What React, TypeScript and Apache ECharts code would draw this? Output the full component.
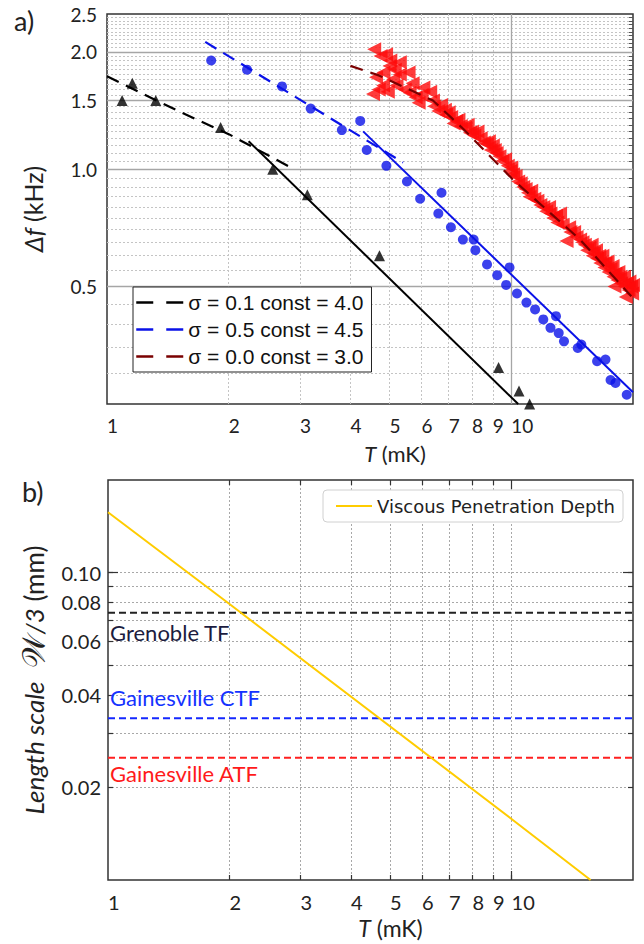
import React, { useEffect, useRef } from 'react';
import * as echarts from 'echarts';

// ---------- axis ticks / labels ----------
const tickT = [1, 2, 3, 4, 5, 6, 7, 8, 9, 10];
const minorT = [2, 3, 4, 5, 6, 7, 8, 9];
const majorT = [10];
const bottomGridT = [2, 3, 4, 5, 6, 7, 8, 9, 10];
const dfTickLabels = [0.5, 1.0, 1.5, 2.0, 2.5];
const dfMajorGrid = [0.5, 1.0, 1.5, 2.0];
const dfMinorGrid = [
  0.3, 0.35, 0.4, 0.45, 0.55, 0.6, 0.65, 0.7, 0.75, 0.8, 0.85, 0.9, 0.95,
  1.05, 1.1, 1.15, 1.2, 1.25, 1.3, 1.35, 1.4, 1.45, 1.55, 1.6, 1.65, 1.7, 1.75,
  1.8, 1.85, 1.9, 1.95, 2.05, 2.1, 2.15, 2.2, 2.25, 2.3, 2.35, 2.4, 2.45,
];
const lengthTickLabels = [0.02, 0.04, 0.06, 0.08, 0.1];
const lengthTicks = [0.02, 0.03, 0.04, 0.05, 0.06, 0.07, 0.08, 0.09, 0.1];
const lengthMajorTicks = [0.1];

// ---------- panel a) data : [T (mK), Δf (kHz)] ----------
const blackTriangles = [
  [1.09, 1.5], [1.155, 1.66], [1.32, 1.5], [1.91, 1.28], [2.57, 1.0],
  [3.13, 0.86], [4.72, 0.6], [9.3, 0.31], [10.45, 0.27], [11.1, 0.25],
];
const blueCircles = [
  [1.81, 1.9], [2.22, 1.8], [2.71, 1.63], [3.19, 1.43], [3.81, 1.26], [4.23, 1.33],
  [4.39, 1.12], [4.91, 1.02], [5.52, 0.93], [5.95, 0.84], [6.72, 0.87], [6.6, 0.77],
  [7.09, 0.71], [7.59, 0.66], [8.07, 0.66], [8.15, 0.62], [8.71, 0.57], [9.23, 0.535],
  [9.9, 0.56], [9.71, 0.505], [10.33, 0.48], [10.9, 0.455], [11.45, 0.437], [12.0, 0.412],
  [12.9, 0.42], [12.5, 0.392], [13.1, 0.38], [13.5, 0.362], [14.6, 0.348], [14.9, 0.355],
  [16.3, 0.322], [17.1, 0.325], [17.6, 0.288], [18.1, 0.283], [19.3, 0.264],
];
const redTriangles = [
  [4.58, 2.03], [4.75, 1.95], [4.9, 1.97], [5.02, 1.9], [5.0, 1.84], [4.83, 1.77],
  [4.63, 1.72], [4.82, 1.64], [4.55, 1.56], [4.7, 1.6], [5.1, 1.7], [5.3, 1.75],
  [5.3, 1.88], [5.57, 1.77], [5.2, 1.64], [5.45, 1.6], [5.6, 1.57], [5.8, 1.53],
  [6.06, 1.62], [6.0, 1.55], [6.3, 1.58], [6.4, 1.5], [6.45, 1.45], [4.95, 1.58],
  [5.15, 1.8], [5.7, 1.66], [5.9, 1.48],
  [6.7, 1.46], [6.85, 1.42], [6.9, 1.38], [7.1, 1.36], [7.3, 1.33], [7.5, 1.29],
  [7.7, 1.28], [7.9, 1.24], [8.1, 1.22], [8.4, 1.2], [8.7, 1.16], [8.9, 1.12],
  [9.2, 1.1], [9.5, 1.05], [9.8, 1.02], [10.1, 0.97], [10.4, 0.93], [10.7, 0.9],
  [11.0, 0.87], [11.4, 0.84], [11.8, 0.81], [12.2, 0.78], [12.7, 0.75], [13.2, 0.77],
  [13.0, 0.73], [13.7, 0.654], [13.9, 0.71], [14.3, 0.69], [14.8, 0.66], [15.2, 0.64],
  [15.6, 0.63], [15.9, 0.6], [16.3, 0.59], [16.6, 0.575], [17.0, 0.56], [17.4, 0.545],
  [17.9, 0.53], [18.3, 0.52], [18.7, 0.51], [19.1, 0.5], [19.5, 0.49], [19.9, 0.48],
  [15.8, 0.64], [16.2, 0.62], [16.8, 0.6], [17.3, 0.58], [17.8, 0.565], [18.4, 0.545],
  [19.0, 0.53], [19.6, 0.515], [20.0, 0.505], [18.0, 0.5], [19.2, 0.47], [9.0, 1.15],
  [10.0, 1.01], [11.2, 0.88], [12.4, 0.8], [8.0, 1.25], [7.2, 1.31],
  [6.6, 1.41], [7.0, 1.4], [7.4, 1.34], [7.8, 1.3], [8.25, 1.25], [8.55, 1.17],
  [8.8, 1.18], [9.1, 1.12], [9.35, 1.08], [9.65, 1.06], [9.95, 0.99], [10.25, 0.96],
  [10.55, 0.92], [10.85, 0.89], [11.1, 0.85], [11.6, 0.83], [12.0, 0.8], [12.5, 0.77],
  [12.9, 0.76], [13.4, 0.72], [14.0, 0.69], [14.5, 0.67], [15.0, 0.65], [15.4, 0.62],
  [16.0, 0.61], [16.5, 0.6], [17.1, 0.575], [17.6, 0.555], [18.1, 0.54], [18.6, 0.53],
  [19.3, 0.51], [19.8, 0.5],
];
const fitS01Dashed = [[1.0, 1.73], [1.5, 1.41], [2.0, 1.23], [2.85, 1.01]];
const fitS01Solid = [[2.24, 1.18], [10.4, 0.25]];
const fitS05Dashed = [[1.75, 2.12], [5.4, 1.04]];
const fitS05Solid = [[4.3, 1.25], [20, 0.268]];
const fitS00 = [[4.0, 1.84], [4.7, 1.74], [6.4, 1.5], [7.6, 1.27], [10.1, 0.94], [14.8, 0.66], [19.8, 0.472]];

const legendNames = ['σ = 0.1 const = 4.0', 'σ = 0.5 const = 4.5', 'σ = 0.0 const = 3.0'];

// ---------- panel b) data : [T (mK), length (mm)] ----------
const penetrationDepth = [[1, 0.157], [2, 0.079], [10, 0.0158], [15.7, 0.01]];
const grenobleTF = 0.074;
const gainesvilleCTF = 0.0336;
const gainesvilleATF = 0.025;
const tRange = [1, 20];

const FONT = 'Lato, "Open Sans", sans-serif';

function logX(grid: number, extra: any) {
  return {
    type: 'log', logBase: 10, gridIndex: grid, min: 1, max: 20,
    axisLine: { show: false },
    axisLabel: { show: false },
    axisTick: { show: false },
    splitLine: { show: false },
    ...extra,
  };
}
function logY(grid: number, min: number, max: number, extra: any) {
  return {
    type: 'log', logBase: 10, gridIndex: grid, min, max,
    axisLine: { show: false },
    axisLabel: { show: false },
    axisTick: { show: false },
    splitLine: { show: false },
    ...extra,
  };
}

function hLine(name: string, value: number, color: string, labelColor: string, dy: number) {
  return {
    type: 'line', name, xAxisIndex: 2, yAxisIndex: 2, silent: true,
    symbol: 'circle', symbolSize: 0.1, showSymbol: true,
    itemStyle: { color: 'rgba(0,0,0,0)' },
    lineStyle: { color, width: 2, type: [7, 4] },
    data: [
      {
        value: [tRange[0], value],
        label: {
          show: true, position: 'right', offset: [-3, dy], formatter: name,
          fontFamily: FONT, fontSize: 22, color: labelColor,
        },
      },
      [tRange[1], value],
    ],
    z: 4,
  };
}

export default function App() {
  const ref = useRef<HTMLDivElement>(null);
  useEffect(() => {
    const chart = echarts.init(ref.current!, null, { renderer: 'svg' });
    const option: any = {
      animation: false,
      backgroundColor: '#ffffff',
      textStyle: { fontFamily: FONT },
      grid: [
        { left: 107, right: 11, top: 14, height: 390, show: true, borderColor: '#333', borderWidth: 1.5, backgroundColor: 'transparent' },
        { left: 108, right: 11, top: 480, height: 400, show: true, borderColor: '#333', borderWidth: 1.5, backgroundColor: 'transparent' },
      ],
      graphic: [
        { type: 'text', left: 14, top: 7, style: { text: 'a)', fontSize: 27, fontFamily: FONT, fill: '#222' } },
        { type: 'text', left: 22, top: 478, style: { text: 'b)', fontSize: 27, fontFamily: FONT, fill: '#222' } },
      ],
      legend: [
        {
          data: legendNames, orient: 'vertical', left: 133, top: 287,
          backgroundColor: '#fff', borderColor: '#222', borderWidth: 1, borderRadius: 0,
          padding: [5, 8, 5, 2], itemWidth: 47, itemHeight: 14, itemGap: 6,
          selectedMode: false,
          itemStyle: { opacity: 0 },
          lineStyle: { type: [17, 13], width: 2.5 },
          textStyle: { fontFamily: '"Liberation Sans", Arial, sans-serif', fontSize: 21, color: '#111', lineHeight: 21 },
        },
        {
          data: ['Viscous Penetration Depth'], orient: 'horizontal', right: 21, top: 490,
          backgroundColor: '#fff', borderColor: '#d0d0d0', borderWidth: 1, borderRadius: 4,
          padding: [6, 8, 6, 12], itemWidth: 36, itemHeight: 12, selectedMode: false,
          itemStyle: { opacity: 0 },
          textStyle: { fontFamily: '"DejaVu Sans", sans-serif', fontSize: 18, color: '#222', lineHeight: 20 },
        },
      ],
      xAxis: [
        logX(0, {
          position: 'bottom',
          name: '{i|T} (mK)', nameLocation: 'middle', nameGap: 38,
          nameTextStyle: { fontFamily: FONT, fontSize: 22, color: '#222', padding: [0, 0, 0, 50], rich: { i: { fontStyle: 'italic', fontFamily: FONT, fontSize: 22, color: '#222' } } },
          axisLabel: { show: true, customValues: tickT, align: 'left', margin: 12, fontSize: 19, color: '#222', fontFamily: FONT, formatter: (v: number) => String(Math.round(v)) },
          axisTick: { show: false, customValues: majorT },
          splitLine: { show: true, lineStyle: { color: '#a6a6a6', width: 1.3, type: 'solid' } },
        }),
        logX(0, {
          position: 'bottom',
          axisTick: { show: false, customValues: minorT },
          splitLine: { show: true, lineStyle: { color: '#c4c4c4', width: 1, type: [2, 2] } },
        }),
        logX(1, {
          position: 'bottom',
          name: '{i|T} (mK)', nameLocation: 'middle', nameGap: 36,
          nameTextStyle: { fontFamily: FONT, fontSize: 23, color: '#222', padding: [0, 0, 0, 40], rich: { i: { fontStyle: 'italic', fontFamily: FONT, fontSize: 23, color: '#222' } } },
          axisLabel: { show: true, customValues: tickT, align: 'left', margin: 12, fontSize: 20, color: '#222', fontFamily: FONT, formatter: (v: number) => String(Math.round(v)) },
          axisTick: { show: true, inside: true, length: 5, customValues: bottomGridT, lineStyle: { color: '#333', width: 1.2 } },
          splitLine: { show: true, lineStyle: { color: '#a8a8a8', width: 1, type: [2, 2] } },
        }),
        logX(1, {
          position: 'top',
          axisTick: { show: true, inside: true, length: 5, customValues: minorT, lineStyle: { color: '#333', width: 1.2 } },
        }),
        logX(1, {
          position: 'bottom',
          axisTick: { show: true, inside: true, length: 9, customValues: majorT, lineStyle: { color: '#333', width: 1.2 } },
        }),
        logX(1, {
          position: 'top',
          axisTick: { show: true, inside: true, length: 9, customValues: majorT, lineStyle: { color: '#333', width: 1.2 } },
        }),
      ],
      yAxis: [
        logY(0, 0.25, 2.5, {
          position: 'left',
          name: '{i|Δf} (kHz)', nameLocation: 'middle', nameGap: 62,
          nameTextStyle: { fontFamily: FONT, fontSize: 25, color: '#222', rich: { i: { fontStyle: 'italic', fontFamily: FONT, fontSize: 25, color: '#222' } } },
          axisLabel: { show: true, customValues: dfTickLabels, margin: 10, fontSize: 19, color: '#222', fontFamily: FONT, formatter: (v: number) => v.toFixed(1) },
          axisTick: { show: false, customValues: dfMajorGrid },
          splitLine: { show: true, lineStyle: { color: '#a6a6a6', width: 1.3, type: 'solid' } },
        }),
        logY(0, 0.25, 2.5, {
          position: 'right',
          axisTick: { show: true, inside: true, length: 4, customValues: dfMinorGrid, lineStyle: { color: '#555', width: 1 } },
          splitLine: { show: true, lineStyle: { color: '#c4c4c4', width: 1, type: [2, 2] } },
        }),
        logY(1, 0.01, 0.2, {
          position: 'left',
          name: '{i|Length scale}  {w|𝒲}{i|/3} (mm)', nameLocation: 'middle', nameGap: 58,
          nameTextStyle: {
            fontFamily: FONT, fontSize: 26, color: '#222',
            rich: {
              i: { fontStyle: 'italic', fontFamily: FONT, fontSize: 26, color: '#222' },
              w: { fontFamily: '"DejaVu Serif", "DejaVu Sans", serif', fontSize: 32, color: '#222' },
            },
          },
          axisLabel: { show: true, customValues: lengthTickLabels, margin: 7, fontSize: 20, color: '#222', fontFamily: FONT, formatter: (v: number) => v.toFixed(2) },
          axisTick: { show: true, inside: true, length: 5, customValues: lengthTicks, lineStyle: { color: '#333', width: 1.2 } },
          splitLine: { show: true, lineStyle: { color: '#a8a8a8', width: 1, type: [2, 2] } },
        }),
        logY(1, 0.01, 0.2, {
          position: 'right',
          axisTick: { show: true, inside: true, length: 5, customValues: lengthTicks, lineStyle: { color: '#333', width: 1.2 } },
        }),
        logY(1, 0.01, 0.2, {
          position: 'left',
          axisTick: { show: true, inside: true, length: 10, customValues: lengthMajorTicks, lineStyle: { color: '#333', width: 1.2 } },
        }),
        logY(1, 0.01, 0.2, {
          position: 'right',
          axisTick: { show: true, inside: true, length: 10, customValues: lengthMajorTicks, lineStyle: { color: '#333', width: 1.2 } },
        }),
      ],
      series: [
        { type: 'scatter', name: 'σ0.1 data', xAxisIndex: 0, yAxisIndex: 0, data: blackTriangles, symbol: 'triangle', symbolSize: 11, itemStyle: { color: '#000' }, silent: true, z: 3 },
        { type: 'scatter', name: 'σ0.5 data', xAxisIndex: 0, yAxisIndex: 0, data: blueCircles, symbol: 'circle', symbolSize: 10, itemStyle: { color: '#0a12e8' }, silent: true, z: 3 },
        { type: 'scatter', name: 'σ0.0 data', xAxisIndex: 0, yAxisIndex: 0, data: redTriangles, symbol: 'triangle', symbolRotate: 90, symbolSize: 14, itemStyle: { color: '#ff0a0a' }, silent: true, z: 3 },
        { type: 'line', name: legendNames[0], xAxisIndex: 0, yAxisIndex: 0, data: fitS01Dashed, symbol: 'none', lineStyle: { color: '#000', width: 2.2, type: [13, 8] }, itemStyle: { color: '#000' }, silent: true, z: 4 },
        { type: 'line', name: 'σ0.1 fit', xAxisIndex: 0, yAxisIndex: 0, data: fitS01Solid, symbol: 'none', lineStyle: { color: '#000', width: 2 }, silent: true, z: 4 },
        { type: 'line', name: legendNames[1], xAxisIndex: 0, yAxisIndex: 0, data: fitS05Dashed, symbol: 'none', lineStyle: { color: '#0a12e8', width: 2.2, type: [13, 8] }, itemStyle: { color: '#0a12e8' }, silent: true, z: 4 },
        { type: 'line', name: 'σ0.5 fit', xAxisIndex: 0, yAxisIndex: 0, data: fitS05Solid, symbol: 'none', lineStyle: { color: '#0a12e8', width: 2 }, silent: true, z: 4 },
        { type: 'line', name: legendNames[2], xAxisIndex: 0, yAxisIndex: 0, data: fitS00, symbol: 'none', lineStyle: { color: '#7a0000', width: 2.2, type: [13, 8] }, itemStyle: { color: '#7a0000' }, silent: true, z: 4 },
        { type: 'line', name: 'Viscous Penetration Depth', xAxisIndex: 2, yAxisIndex: 2, data: penetrationDepth, symbol: 'none', lineStyle: { color: '#ffcc00', width: 2 }, itemStyle: { color: '#ffcc00' }, silent: true, z: 5 },
        hLine('Grenoble TF', grenobleTF, '#222222', '#1c1c40', 20),
        hLine('Gainesville CTF', gainesvilleCTF, '#1428ff', '#1432ff', -21),
        hLine('Gainesville ATF', gainesvilleATF, '#ff2020', '#ff1a1a', 16),
      ],
    };
    chart.setOption(option);
    return () => chart.dispose();
  }, []);
  return (
    <div
      ref={ref}
      style={{ position: 'fixed', left: 0, top: 0, width: 644, height: 944, background: '#fff' }}
    />
  );
}
